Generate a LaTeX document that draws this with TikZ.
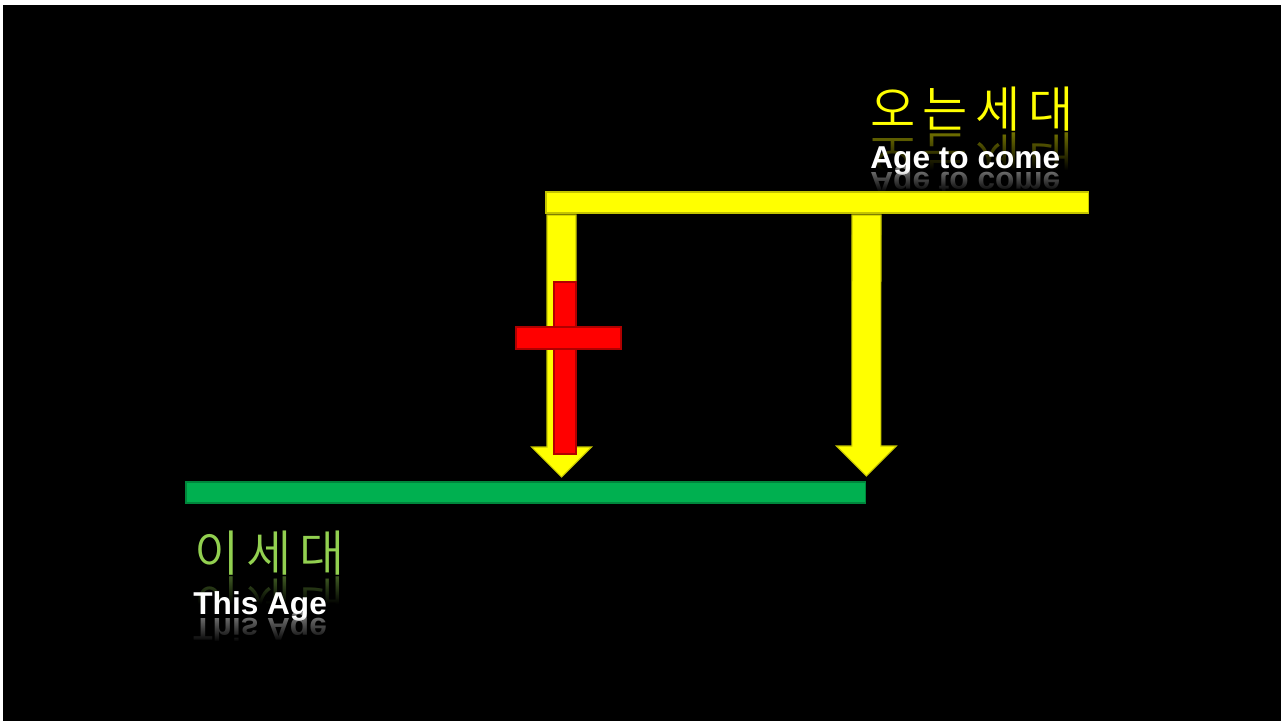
\documentclass[tikz,border=0pt]{standalone}
\usepackage{fontspec}
\setmainfont{Liberation Sans}
\newfontfamily\krfont{Noto Sans CJK KR DemiLight}[LetterSpace=15]
\usetikzlibrary{calc,fadings}
\definecolor{AgeYel}{HTML}{FFFF00}
\definecolor{AgeYelBord}{HTML}{C4C400}
\definecolor{AgeGrn}{HTML}{00B050}
\definecolor{AgeGrnBord}{HTML}{00863C}
\definecolor{AgeRed}{HTML}{FF0000}
\definecolor{AgeRedBord}{HTML}{B00000}
\definecolor{KorGrn}{HTML}{92D050}
\tikzfading[name=reflfade, top color=transparent!100, bottom color=transparent!0]
\tikzset{
  bar/.style={rectangle, inner sep=0pt, outer sep=0pt, line width=0.6pt},
  ybar/.style={bar, draw=AgeYelBord, fill=AgeYel},
  gbar/.style={bar, draw=AgeGrnBord, fill=AgeGrn},
  rbar/.style={bar, draw=AgeRedBord, fill=AgeRed},
  yarr/.style={draw=AgeYelBord, fill=AgeYel, line width=0.6pt, line join=miter},
  krt/.style={anchor=base west, inner sep=0pt, font=\krfont\fontsize{28}{30}\selectfont},
  ent/.style={anchor=base west, inner sep=0pt, text=white, font=\bfseries\fontsize{18}{20}\selectfont},
  refl/.style={yscale=-1, opacity=0.45},
  cover/.style={black, path fading=reflfade},
}
% block arrow pointing down, from #1 (top of shaft) to #2 (tip)
\newcommand{\blkarrow}[2]{%
  \filldraw[yarr] ($(#1)+(-14.5,0)$) -- ($(#1)+(14.5,0)$)
    -- ($(#2)+(14.5,-30)$) -- ($(#2)+(30,-30)$) -- (#2)
    -- ($(#2)+(-30,-30)$) -- ($(#2)+(-14.5,-30)$) -- cycle;}

\begin{document}
\begin{tikzpicture}[x=0.02cm, y=-0.02cm]

% ---------------- frame ----------------
\fill[white] (0,0) rectangle (1281,721);
\fill[black] (3,5) rectangle (1281,721);

% ---------------- age to come label ----------------
\node[krt, text=AgeYel] (comekr) at (870,127) {오는세대};
\node[krt, text=AgeYel, refl] (comekrr) at (870,136) {오는세대};
\fill[cover] (860,132) rectangle (1095,170);
\fill[black] (860,170) rectangle (1095,180);
\node[ent] (comeen) at (870,168) {Age to come};
\node[ent, refl] (comeenr) at (870,172) {Age to come};
\fill[cover] (860,170) rectangle (1070,192);

% ---------------- this age label ----------------
\node[krt, text=KorGrn] (nowkr) at (194,571) {이세대};
\node[krt, text=KorGrn, refl] (nowkrr) at (194,580) {이세대};
\fill[cover] (185,576) rectangle (360,604);
\fill[black] (185,604) rectangle (360,625);
\node[ent] (nowen) at (193,614) {This Age};
\node[ent, refl] (nowenr) at (193,618) {This Age};
\fill[cover] (185,616) rectangle (340,642);
\fill[black] (185,642) rectangle (340,648);

% ---------------- the two ages ----------------
\node[ybar, minimum width=10.86cm, minimum height=0.42cm, anchor=north west] (comebar) at (546,192) {};
\node[gbar, minimum width=13.6cm, minimum height=0.42cm, anchor=north west] (nowbar) at (186,482) {};

% ---------------- arrows down ----------------
\coordinate (a1s) at ($(comebar.south west)+(15.5,2)$);
\coordinate (a1e) at ($(nowbar.north west)+(375.5,-5)$);
\coordinate (a2s) at ($(comebar.south west)+(320.5,2)$);
\coordinate (a2e) at ($(nowbar.north east)+(0.5,-6)$);
\blkarrow{a1s}{a1e}
\blkarrow{a2s}{a2e}

% ---------------- cross ----------------
\node[rbar, minimum width=0.44cm, minimum height=3.44cm, anchor=north west] (crossv) at (554,282) {};
\node[rbar, minimum width=2.1cm, minimum height=0.44cm, anchor=north west] (crossh) at (516,327) {};

\end{tikzpicture}
\end{document}
